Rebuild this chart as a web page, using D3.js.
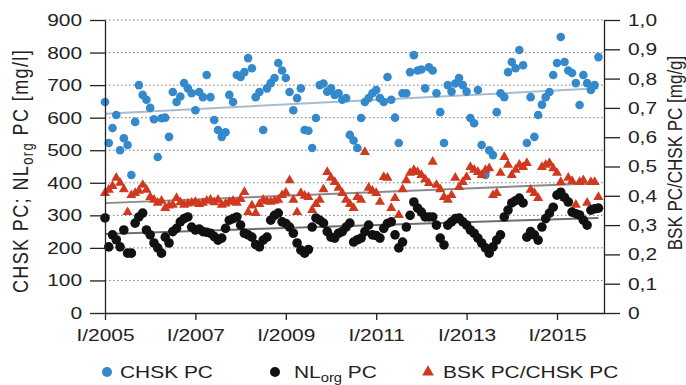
<!DOCTYPE html>
<html>
<head>
<meta charset="utf-8">
<script src="https://cdn.jsdelivr.net/npm/d3@7"></script>
<style>
  body { margin: 0; background: #fff; }
  text { font-family: "Liberation Sans", Arial, Helvetica, sans-serif; fill: #222; }
</style>
</head>
<body>
<div id="chart"></div>
<script>
// monthly samples, Jan 2005 .. Dec 2015
var startYear = 2005;

var chskPC = [
  648, 522, 568, 608, 500, 537, 516, 424, 587, 700, 670, 655,
  630, 595, 479, 598, 600, 541, 679, 648, 665, 706, 690, 675,
  623, 679, 663, 731, 663, 593, 562, 541, 555, 670, 648, 731,
  725, 740, 783, 752, 663, 679, 562, 690, 706, 722, 768, 745,
  722, 679, 623, 660, 690, 562, 560, 507, 599, 700, 705, 680,
  690, 670, 675, 655, 660, 547, 530, 507, 599, 648, 660, 675,
  685, 660, 648, 725, 655, 600, 522, 675, 675, 740, 792, 745,
  748, 690, 755, 745, 675, 617, 522, 700, 680, 705, 722, 700,
  680, 599, 583, 685, 516, 424, 500, 485, 617, 675, 663, 740,
  771, 752, 808, 761, 522, 663, 541, 608, 640, 663, 679, 731,
  768, 848, 771, 745, 737, 706, 639, 731, 706, 685, 700, 786
];

var nlorgPC = [
  292, 203, 240, 225, 203, 255, 184, 184, 276, 295, 307, 255,
  240, 215, 200, 184, 233, 215, 250, 260, 280, 290, 295, 264,
  255, 258, 250, 248, 245, 235, 224, 230, 260, 285, 290, 295,
  270, 245, 240, 233, 210, 203, 224, 233, 285, 300, 307, 280,
  275, 264, 245, 215, 193, 184, 195, 264, 292, 285, 276, 250,
  233, 230, 245, 250, 264, 276, 218, 225, 230, 250, 270, 240,
  238, 230, 260, 275, 280, 240, 200, 218, 264, 300, 341, 322,
  310, 295, 295, 295, 270, 230, 209, 270, 280, 290, 292, 280,
  270, 255, 245, 230, 215, 200, 184, 203, 224, 240, 295, 316,
  338, 345, 353, 338, 233, 250, 240, 224, 264, 290, 307, 325,
  362, 371, 355, 341, 310, 305, 301, 285, 270, 316, 320, 322
];

// BSK PC / CHSK PC ratio [mg/g], right axis
var bskRatio = [
  0.409, 0.420, 0.433, 0.461, 0.444, 0.422, 0.344, 0.402, 0.409, 0.417, 0.437, 0.420,
  0.396, 0.386, 0.376, 0.383, 0.358, 0.367, 0.369, 0.392, 0.378, 0.369, 0.373, 0.376,
  0.379, 0.372, 0.376, 0.383, 0.386, 0.378, 0.386, 0.369, 0.373, 0.379, 0.383, 0.376,
  0.389, 0.413, 0.344, 0.367, 0.341, 0.372, 0.386, 0.381, 0.379, 0.383, 0.386, 0.402,
  0.411, 0.453, 0.386, 0.344, 0.409, 0.400, 0.396, 0.351, 0.372, 0.386, 0.422, 0.481,
  0.461, 0.447, 0.427, 0.409, 0.386, 0.372, 0.358, 0.396, 0.386, 0.549, 0.427, 0.417,
  0.409, 0.379, 0.464, 0.461, 0.358, 0.392, 0.334, 0.422, 0.453, 0.478, 0.488, 0.481,
  0.471, 0.456, 0.443, 0.516, 0.437, 0.422, 0.396, 0.386, 0.402, 0.461, 0.430, 0.447,
  0.464, 0.498, 0.489, 0.481, 0.471, 0.488, 0.494, 0.402, 0.409, 0.478, 0.532, 0.506,
  0.471, 0.489, 0.506, 0.498, 0.512, 0.420, 0.409, 0.392, 0.498, 0.506, 0.512, 0.494,
  0.478, 0.447, 0.392, 0.461, 0.450, 0.369, 0.447, 0.453, 0.376, 0.447, 0.447, 0.396
];

// linear trend end points (start, end)
var chskTrend = [612, 690];
var nlorgTrend = [243, 292];
var bskTrend = [0.375, 0.443];

var leftTicks = [0, 100, 200, 300, 400, 500, 600, 700, 800, 900];
var rightTicks = [0, 0.1, 0.2, 0.3, 0.4, 0.5, 0.6, 0.7, 0.8, 0.9, 1.0];
var yearTicks = [2005, 2007, 2009, 2011, 2013, 2015];

var svgWidth = 686;
var svgHeight = 385;
var margin = { top: 20, right: 82, bottom: 72, left: 105 };
var width = svgWidth - margin.left - margin.right;
var height = svgHeight - margin.top - margin.bottom;

// the printed figure is a bit wider than tall, stretch the lettering
var stretch = 1.23;
var fontSize = 17;

var svg = d3.select("#chart")
  .append("svg")
  .attr("width", svgWidth)
  .attr("height", svgHeight);

var chartGroup = svg.append("g")
  .attr("transform", `translate(${margin.left}, ${margin.top})`);

var endYear = startYear + (chskPC.length - 1) / 12;

var xScale = d3.scaleLinear()
  .domain([startYear, 2016.04])
  .range([0, width]);

var yLeft = d3.scaleLinear()
  .domain([0, 900])
  .range([height, 0]);

var yRight = d3.scaleLinear()
  .domain([0, 1])
  .range([height, 0]);

var monthX = (d, i) => xScale(startYear + i / 12);

// dotted grid
chartGroup.append("g")
  .selectAll("line")
  .data(leftTicks.filter(d => d > 0))
  .enter()
  .append("line")
  .attr("x1", 0)
  .attr("x2", width)
  .attr("y1", d => yLeft(d))
  .attr("y2", d => yLeft(d))
  .attr("stroke", "#777")
  .attr("stroke-width", 1)
  .attr("stroke-dasharray", "1.5,2.5");

// trend lines
function drawTrend(ends, scale, color) {
  chartGroup.append("line")
    .attr("x1", xScale(startYear))
    .attr("x2", xScale(endYear))
    .attr("y1", scale(ends[0]))
    .attr("y2", scale(ends[1]))
    .attr("stroke", color)
    .attr("stroke-width", 2);
}
drawTrend(chskTrend, yLeft, "#a9bccb");
drawTrend(bskTrend, yRight, "#8a8a8a");
drawTrend(nlorgTrend, yLeft, "#6e6e6e");

// CHSK PC points
chartGroup.append("g")
  .selectAll("circle")
  .data(chskPC)
  .enter()
  .append("circle")
  .attr("cx", monthX)
  .attr("cy", d => yLeft(d))
  .attr("r", 4.3)
  .attr("fill", "#3389cb");

// BSK/CHSK ratio triangles
var tri = d3.symbol().type(d3.symbolTriangle).size(44);
chartGroup.append("g")
  .selectAll("path")
  .data(bskRatio)
  .enter()
  .append("path")
  .attr("d", tri)
  .attr("transform", (d, i) => `translate(${monthX(d, i)}, ${yRight(d)})`)
  .attr("fill", "#d0391f");

// NLorg PC points
chartGroup.append("g")
  .selectAll("circle")
  .data(nlorgPC)
  .enter()
  .append("circle")
  .attr("cx", monthX)
  .attr("cy", d => yLeft(d))
  .attr("r", 4.8)
  .attr("fill", "#111");

// axes
function styleAxis(g, textX) {
  g.select(".domain").attr("stroke", "#222").attr("stroke-width", 1.3);
  g.selectAll(".tick line").attr("stroke", "#222").attr("stroke-width", 1.3);
  g.selectAll(".tick text")
    .attr("font-size", fontSize)
    .attr("font-family", null)
    .attr("fill", "#222")
    .attr("transform", `scale(${stretch},1)`);
  if (textX !== undefined) {
    g.selectAll(".tick text").attr("x", textX / stretch);
  }
}

var leftAxis = chartGroup.append("g")
  .call(d3.axisLeft(yLeft).tickValues(leftTicks).tickSize(15).tickPadding(8).tickSizeOuter(0));
styleAxis(leftAxis, -23);

var rightAxis = chartGroup.append("g")
  .attr("transform", `translate(${width}, 0)`)
  .call(d3.axisRight(yRight).tickValues(rightTicks).tickSize(16).tickPadding(8).tickSizeOuter(0)
    .tickFormat(d => d === 0 ? "0" : d3.format(".1f")(d).replace(".", ",")));
styleAxis(rightAxis, 24);

var bottomAxis = chartGroup.append("g")
  .attr("transform", `translate(0, ${height})`)
  .call(d3.axisBottom(xScale).tickValues(yearTicks).tickSize(7).tickPadding(9).tickSizeOuter(0)
    .tickFormat(d => "I/" + d));
styleAxis(bottomAxis);

// axis titles
var leftTitle = svg.append("text")
  .attr("transform", `translate(28, 171) scale(${stretch},1) rotate(-90)`)
  .attr("text-anchor", "middle")
  .attr("font-size", 18)
  .attr("letter-spacing", 1.4);
leftTitle.append("tspan").text("CHSK PC; NL");
leftTitle.append("tspan").attr("font-size", 13).attr("dy", 4).text("org");
leftTitle.append("tspan").attr("dy", -4).text(" PC [mg/l]");

svg.append("text")
  .attr("transform", `translate(682, 153) scale(${stretch},1) rotate(-90)`)
  .attr("text-anchor", "middle")
  .attr("font-size", fontSize)
  .text("BSK PC/CHSK PC [mg/g]");

// legend
var legend = svg.append("g").attr("transform", "translate(0, 372)");

legend.append("circle").attr("cx", 107).attr("cy", 0).attr("r", 5).attr("fill", "#3389cb");
legend.append("text")
  .attr("transform", `translate(120, 6) scale(${stretch},1)`)
  .attr("font-size", fontSize)
  .text("CHSK PC");

legend.append("circle").attr("cx", 275).attr("cy", 0).attr("r", 5).attr("fill", "#111");
var nlText = legend.append("text")
  .attr("transform", `translate(294, 6) scale(${stretch},1)`)
  .attr("font-size", fontSize);
nlText.append("tspan").text("NL");
nlText.append("tspan").attr("font-size", 12).attr("dy", 4).text("org");
nlText.append("tspan").attr("dy", -4).text(" PC");

legend.append("path")
  .attr("d", d3.symbol().type(d3.symbolTriangle).size(60))
  .attr("transform", "translate(428, 0)")
  .attr("fill", "#d0391f");
legend.append("text")
  .attr("transform", `translate(443, 6) scale(${stretch},1)`)
  .attr("font-size", fontSize)
  .text("BSK PC/CHSK PC");
</script>
</body>
</html>
